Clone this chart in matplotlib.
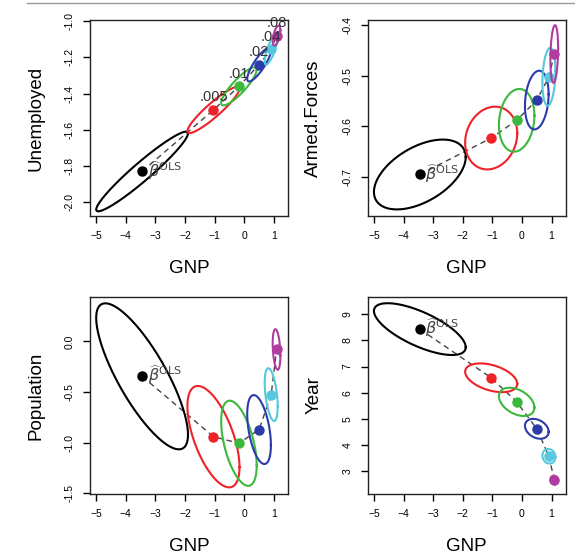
import numpy as np
import matplotlib
matplotlib.use('Agg')
import matplotlib.pyplot as plt
from matplotlib.lines import Line2D
from matplotlib.ticker import FormatStrFormatter

plt.rcParams['font.family'] = ['Liberation Sans', 'DejaVu Sans']
plt.rcParams['mathtext.fontset'] = 'dejavusans'

# ridge constants and colours
lambdas = ['0', '.005', '.01', '.02', '.04', '.08']
colors = ['black', '#EE2228', '#3CB83C', '#2B3CA8', '#55C8DE', '#B03CA0']

# ridge coefficients (centres of the ellipses)
gnp = [-3.45, -1.04, -0.18, 0.50, 0.91, 1.09]
unemployed = [-1.83, -1.49, -1.36, -1.24, -1.155, -1.08]
armed_forces = [-0.695, -0.623, -0.588, -0.548, -0.502, -0.457]
population = [-0.345, -0.94, -1.005, -0.87, -0.525, -0.08]
year = [8.43, 6.57, 5.65, 4.62, 3.57, 2.66]

# half widths of the ellipses along each coefficient, and their correlations
gnp_sd = [1.55, 0.88, 0.60, 0.40, 0.22, 0.13]
unemployed_sd = [0.22, 0.128, 0.105, 0.093, 0.085, 0.055]
armed_sd = [0.069, 0.062, 0.062, 0.058, 0.057, 0.057]
population_sd = [0.72, 0.50, 0.42, 0.34, 0.26, 0.20]
year_sd = [0.99, 0.55, 0.54, 0.38, 0.28, 0.17]
r_unemployed = [0.955, 0.92, 0.87, 0.84, 0.78, 0.55]
r_armed = [0.5, 0.15, 0.15, 0.2, 0.2, 0.2]
r_population = [-0.8, -0.6, -0.52, -0.45, -0.45, -0.3]
r_year = [-0.7, -0.42, -0.4, -0.3, -0.1, -0.1]

panels = [
    ('Unemployed', unemployed, unemployed_sd, r_unemployed, (-2.076, -0.994), np.arange(-2.0, -0.99, 0.2), '%.1f'),
    ('Armed.Forces', armed_forces, armed_sd, r_armed, (-0.777, -0.39), [-0.7, -0.6, -0.5, -0.4], '%.1f'),
    ('Population', population, population_sd, r_population, (-1.505, 0.438), [-1.5, -1.0, -0.5, 0.0], '%.1f'),
    ('Year', year, year_sd, r_year, (2.13, 9.66), range(3, 10), '%d'),
]
positions = [[0.1565, 0.6108, 0.344, 0.353], [0.6395, 0.6108, 0.344, 0.353],
             [0.1565, 0.1100, 0.344, 0.355], [0.6395, 0.1100, 0.344, 0.355]]

fig = plt.figure(figsize=(5.75, 5.55), dpi=100)
fig.add_artist(Line2D([27 / 575, 1], [1 - 3 / 555, 1 - 3 / 555], color='#999999', lw=1))

t = np.linspace(0, 2 * np.pi, 200)
for k, (name, yvals, ysd, rr, ylim, yticks, fmt) in enumerate(panels):
    ax = fig.add_axes(positions[k])
    # dashed path through the ridge estimates
    ax.plot(gnp, yvals, color='#444444', lw=1, dashes=(4, 3))
    for i in range(len(gnp)):
        ex = gnp[i] + gnp_sd[i] * np.cos(t)
        ey = yvals[i] + ysd[i] * (rr[i] * np.cos(t) + np.sqrt(1 - rr[i] ** 2) * np.sin(t))
        ax.plot(ex, ey, color=colors[i], lw=1.5)
        ax.plot(gnp[i], yvals[i], 'o', color=colors[i], ms=6.5)
        if k == 0 and i > 0:
            ax.annotate(lambdas[i], (gnp[i], yvals[i]), xytext=(0, 9), textcoords='offset points',
                        ha='center', va='center', fontsize=10.5, color='#333333')
    ax.annotate(r'$\widehat{\beta}^{\mathrm{OLS}}$', (gnp[0], yvals[0]), xytext=(4, 1),
                textcoords='offset points', ha='left', va='center', fontsize=11.5, color='#444444')

    ax.set_xlim(-5.21, 1.47)
    ax.set_ylim(*ylim)
    ax.set_xticks(range(-5, 2))
    ax.set_yticks(yticks)
    ax.yaxis.set_major_formatter(FormatStrFormatter(fmt))
    ax.tick_params(direction='out', length=5, width=1, labelsize=7.5, pad=6)
    ax.tick_params(axis='y', labelrotation=90)
    for lab in ax.get_yticklabels():
        lab.set_va('center')
    for s in ax.spines.values():
        s.set_linewidth(1)
        s.set_color('#222222')
    ax.set_xlabel('GNP', fontsize=13.5)
    ax.set_ylabel(name, fontsize=13.5)
    ax.xaxis.set_label_coords(0.5, -0.225)
    ax.yaxis.set_label_coords(-0.23, 0.5)

fig.savefig('out.png', dpi=100)
